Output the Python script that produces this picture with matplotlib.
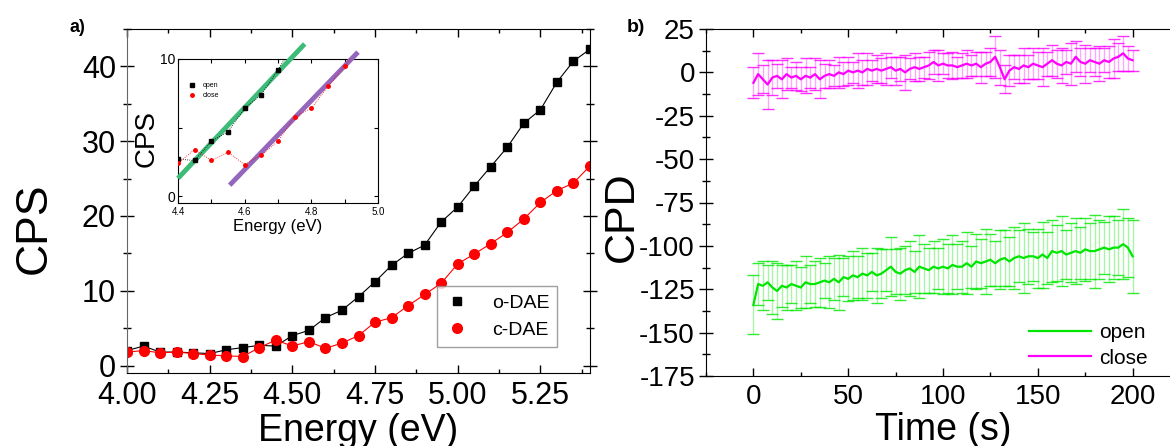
import numpy as np
import matplotlib
matplotlib.use("Agg")
import matplotlib.pyplot as plt
from matplotlib.ticker import MultipleLocator
from matplotlib.lines import Line2D

plt.rcParams['font.family'] = ['Liberation Sans', 'DejaVu Sans']
plt.rcParams['axes.unicode_minus'] = False

# panel a data: photoemission yield
energy = [4.00, 4.05, 4.10, 4.15, 4.20, 4.25, 4.30, 4.35, 4.40, 4.45,
          4.50, 4.55, 4.60, 4.65, 4.70, 4.75, 4.80, 4.85, 4.90, 4.95,
          5.00, 5.05, 5.10, 5.15, 5.20, 5.25, 5.30, 5.35, 5.40]
cps_open = [2.0, 2.6, 1.8, 1.8, 1.7, 1.6, 2.1, 2.4, 2.7, 2.6,
            4.0, 4.7, 6.4, 7.4, 9.2, 11.2, 13.4, 15.0, 16.1, 19.2,
            21.2, 24.0, 26.6, 29.2, 32.4, 34.2, 37.9, 40.7, 42.3]
cps_close = [1.8, 2.0, 1.7, 1.8, 1.6, 1.4, 1.3, 1.2, 2.4, 3.4,
             2.6, 3.2, 2.3, 3.0, 4.0, 5.8, 6.4, 8.0, 9.5, 11.0,
             13.6, 14.9, 16.3, 17.8, 19.6, 21.8, 23.4, 24.4, 26.7]

# linear fits shown in the inset (end points)
fit_open_x = [4.40, 4.78]
fit_open_y = [1.3, 11.1]
fit_close_x = [4.555, 4.94]
fit_close_y = [0.8, 10.5]

# panel b data: CPD vs time
time = np.arange(0, 200.1, 2.5)
open_mean = [-134, -122, -123, -121, -124, -126, -123, -124, -122,
             -123, -124, -121, -122, -122, -121, -120, -121, -119,
             -121, -118, -119, -117, -118, -116, -117, -115, -117,
             -116, -114, -112, -115, -116, -114, -113, -115, -112,
             -113, -114, -112, -113, -112, -113, -111, -112, -112,
             -110, -112, -109, -110, -109, -108, -110, -108, -107,
             -109, -107, -106, -107, -106, -106, -107, -105, -107,
             -103, -104, -103, -105, -104, -103, -104, -102, -103,
             -103, -102, -101, -102, -101, -101, -99, -101, -106]
open_err = [17, 12, 14, 10, 15, 16, 12, 13, 11,
            14, 12, 15, 11, 13, 14, 10, 15, 12,
            16, 11, 13, 14, 12, 15, 13, 11, 16,
            14, 12, 17, 13, 15, 14, 16, 12, 18,
            14, 13, 15, 12, 16, 14, 17, 13, 15,
            18, 12, 16, 14, 19, 15, 13, 17, 16,
            14, 18, 15, 20, 16, 14, 17, 19, 15,
            18, 16, 20, 14, 17, 19, 15, 18, 16,
            21, 17, 15, 19, 18, 16, 20, 17, 21]
close_mean = [-6, -1, -4, -7, -3, -2, -4, -1, -3,
              -2, -4, -2, -3, -1, -4, -2, -1, -2,
              0, -1, 1, 0, 1, 0, 2, 1, 2,
              1, 2, 3, 1, 2, 0, 2, 3, 2,
              3, 4, 6, 4, 5, 4, 4, 3, 4,
              5, 4, 5, 3, 5, 6, 9, 3, -4,
              1, 3, 2, 4, 3, 5, 4, 3, 5,
              7, 5, 4, 6, 5, 9, 6, 5, 7,
              6, 5, 7, 6, 8, 9, 11, 8, 7]
close_err = [9, 12, 8, 14, 10, 7, 11, 9, 6,
             8, 7, 10, 6, 9, 11, 7, 8, 6,
             9, 7, 8, 6, 10, 7, 9, 6, 8,
             7, 9, 6, 8, 7, 10, 6, 8, 7,
             6, 8, 7, 9, 6, 7, 8, 6, 7,
             8, 6, 7, 9, 7, 8, 12, 10, 8,
             9, 7, 8, 10, 7, 9, 8, 11, 7,
             9, 8, 10, 7, 12, 9, 8, 11, 7,
             8, 10, 7, 9, 11, 8, 10, 7, 6]

W, H = 1170, 446
fig = plt.figure(figsize=(W / 100, H / 100), dpi=100)

# ---- panel a ----
ax1 = fig.add_axes([127 / W, 1 - 373 / H, 463 / W, 344 / H])
ax1.plot(energy, cps_open, color='black', lw=0.8, marker='s', ms=6,
         label='o-DAE')
ax1.plot(energy, cps_close, color='red', lw=0.8, marker='o', ms=7,
         label='c-DAE')
ax1.set_xlim(4.0, 5.4)
ax1.set_ylim(-1, 45)
ax1.xaxis.set_major_locator(MultipleLocator(0.25))
ax1.xaxis.set_minor_locator(MultipleLocator(0.125))
ax1.yaxis.set_major_locator(MultipleLocator(10))
ax1.yaxis.set_minor_locator(MultipleLocator(5))
ax1.xaxis.set_major_formatter(plt.FormatStrFormatter('%.2f'))
ax1.tick_params(axis='both', which='both', top=True, right=True,
                direction='in', labelsize=22)
ax1.tick_params(axis='both', which='major', length=6, width=1)
ax1.tick_params(axis='both', which='minor', length=3, width=1)
ax1.tick_params(axis='y', which='major', direction='inout', length=10, pad=3)
ax1.tick_params(axis='y', which='minor', direction='inout', length=6)
ax1.tick_params(axis='x', pad=6)
ax1.spines['left'].set_color('#666666')
ax1.set_xlabel('Energy (eV)', fontsize=27, labelpad=1)
ax1.set_ylabel('CPS', fontsize=32)
ax1.yaxis.set_label_coords(-0.155, 0.42)
leg1 = ax1.legend(loc='lower right', bbox_to_anchor=(0.929, 0.076),
                  borderaxespad=0, fontsize=14, fancybox=False,
                  handletextpad=1.2, handlelength=1.2)
leg1.get_frame().set_edgecolor('#888888')
leg1.get_frame().set_linewidth(1)
for h in leg1.get_lines():
    h.set_linestyle('none')
fig.text(70 / W, 1 - 27 / H, 'a)', fontsize=13, fontweight='bold',
         va='center', ha='left')

# inset
ins = fig.add_axes([178 / W, 1 - 203 / H, 200 / W, 144 / H])
ins.plot(fit_open_x, fit_open_y, color='#3dbb78', lw=3.5, clip_on=False,
         solid_capstyle='butt', zorder=3)
ins.plot(fit_close_x, fit_close_y, color='#9467bd', lw=3.5, clip_on=False,
         solid_capstyle='butt', zorder=3)
ins.plot(energy, cps_open, color='black', lw=0.6, ls=':', marker='s', ms=2.5,
         label='open', zorder=4)
ins.plot(energy, cps_close, color='red', lw=0.6, ls=':', marker='o', ms=2.5,
         label='close', zorder=4)
ins.set_xlim(4.4, 5.0)
ins.set_ylim(-0.5, 10)
ins.set_xticks([4.4, 4.6, 4.8, 5.0])
ins.xaxis.set_minor_locator(MultipleLocator(0.1))
ins.set_yticks([0, 10])
ins.yaxis.set_minor_locator(MultipleLocator(5))
ins.tick_params(axis='both', which='both', direction='in', top=True, right=True,
                length=3, width=0.8)
ins.tick_params(axis='x', labelsize=7, pad=3)
ins.tick_params(axis='y', labelsize=10, pad=2)
ins.set_xlabel('Energy (eV)', fontsize=12, labelpad=1)
ins.set_ylabel('CPS', fontsize=20, labelpad=0)
ins.yaxis.set_label_coords(-0.09, 0.45)
leg_in = ins.legend(loc='upper left', bbox_to_anchor=(0.03, 0.86), fontsize=5,
                    frameon=False, handlelength=1.5, borderaxespad=0)
for h in leg_in.get_lines():
    h.set_linestyle('none')
for s in ins.spines.values():
    s.set_linewidth(0.8)

# ---- panel b ----
ax2 = fig.add_axes([706 / W, 1 - 376 / H, 474 / W, 347 / H])
for mean, err, col in [(open_mean, open_err, '#00e600'),
                       (close_mean, close_err, '#ff00ff')]:
    eb = ax2.errorbar(time, mean, yerr=err, color=col, lw=1.6,
                      ecolor=col, elinewidth=1, capsize=4, capthick=1)
    eb[2][0].set_alpha(0.35)
    for c in eb[1]:
        c.set_alpha(0.8)
ax2.set_xlim(-25, 225)
ax2.set_ylim(-175, 25)
ax2.xaxis.set_major_locator(MultipleLocator(50))
ax2.xaxis.set_minor_locator(MultipleLocator(25))
ax2.yaxis.set_major_locator(MultipleLocator(25))
ax2.yaxis.set_minor_locator(MultipleLocator(12.5))
ax2.tick_params(axis='both', which='both', top=True, right=False,
                direction='in', labelsize=20)
ax2.tick_params(axis='both', which='major', length=6, width=1)
ax2.tick_params(axis='both', which='minor', length=3, width=1)
ax2.tick_params(axis='y', which='major', direction='inout', length=10, pad=3)
ax2.tick_params(axis='y', which='minor', direction='inout', length=6)
ax2.tick_params(axis='x', pad=6)
ax2.spines['right'].set_visible(False)
ax2.set_xlabel('Time (s)', fontsize=27, labelpad=1)
ax2.set_ylabel('CPD', fontsize=31)
ax2.yaxis.set_label_coords(-0.135, 0.46)
handles = [Line2D([], [], color='#00e600', lw=1.6),
           Line2D([], [], color='#ff00ff', lw=1.6)]
ax2.legend(handles, ['open', 'close'], loc='lower right',
           bbox_to_anchor=(0.95, 0.0), frameon=False, fontsize=15,
           handlelength=3.0, handletextpad=0.4, labelspacing=0.3,
           borderaxespad=0)
fig.text(627 / W, 1 - 27 / H, 'b)', fontsize=14, fontweight='bold',
         va='center', ha='left')

fig.savefig('out.png', dpi=100)
